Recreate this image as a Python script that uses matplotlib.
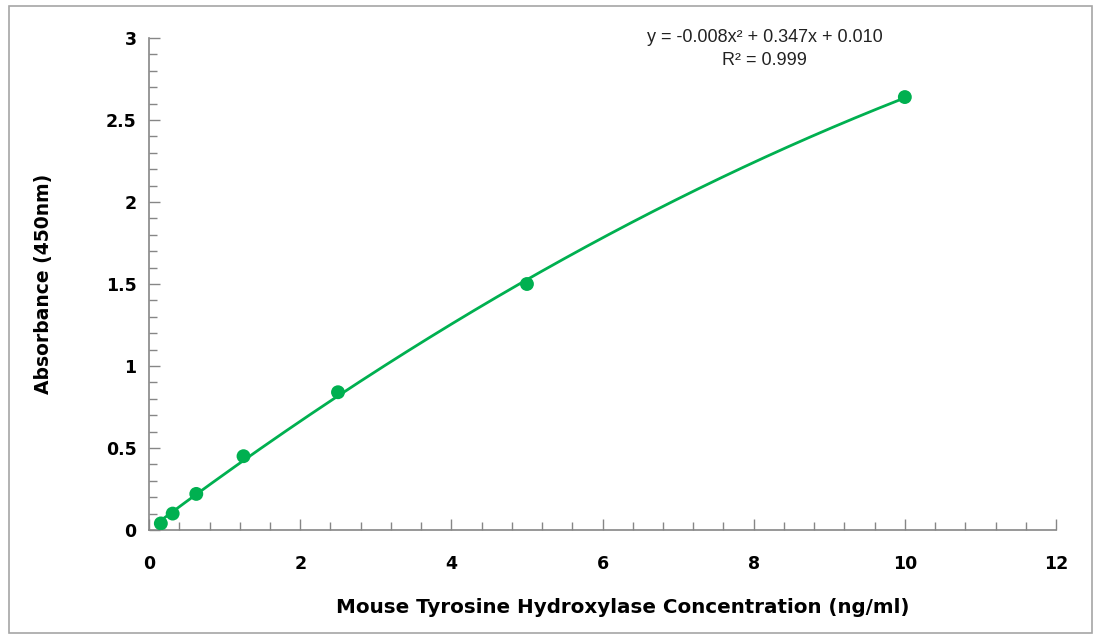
import matplotlib
matplotlib.use('Agg')
import matplotlib.pyplot as plt
import numpy as np
from matplotlib.ticker import MultipleLocator
from matplotlib.patches import Rectangle

# standard curve data
concentracion = [0.156, 0.3125, 0.625, 1.25, 2.5, 5, 10]
absorbancia = [0.04, 0.10, 0.22, 0.45, 0.84, 1.50, 2.64]
ecuacion = "y = -0.008x\u00b2 + 0.347x + 0.010"
r2_texto = "R\u00b2 = 0.999"

plt.rcParams['font.family'] = ['DejaVu Sans']
verde = '#00B050'
gris = '#868686'

fig = plt.figure(figsize=(11, 6.39), dpi=100)
fig.patches.append(Rectangle((0.008, 0.01), 0.985, 0.98, transform=fig.transFigure,
                             fill=False, edgecolor='#a6a6a6', linewidth=1.2))
ax = fig.add_axes([0.1355, 0.1706, 0.8245, 0.7699])

# curva de ajuste polinomica
ajuste = np.polyfit(concentracion, absorbancia, 2)
xs = np.linspace(min(concentracion), max(concentracion), 300)
ax.plot(xs, np.polyval(ajuste, xs), color=verde, linewidth=2, zorder=2)
ax.scatter(concentracion, absorbancia, s=100, color=verde, zorder=3, edgecolors='none')

ax.set_xlim(0, 12)
ax.set_ylim(0, 3)
ax.xaxis.set_major_locator(MultipleLocator(2))
ax.xaxis.set_minor_locator(MultipleLocator(0.4))
ax.yaxis.set_major_locator(MultipleLocator(0.5))
ax.yaxis.set_minor_locator(MultipleLocator(0.1))
ax.set_xticklabels([f"{v:g}" for v in ax.get_xticks()])
ax.set_yticklabels([f"{v:g}" for v in ax.get_yticks()])

for lado in ['top', 'right']:
    ax.spines[lado].set_visible(False)
for lado in ['left', 'bottom']:
    ax.spines[lado].set_color(gris)
    ax.spines[lado].set_linewidth(1.2)

ax.tick_params(which='both', direction='in', color=gris, width=1)
ax.tick_params(which='major', length=8, labelsize=12.5)
ax.tick_params(which='minor', length=6)
ax.tick_params(axis='x', which='major', pad=18)
ax.tick_params(axis='y', which='major', pad=9)
for lbl in ax.get_xticklabels() + ax.get_yticklabels():
    lbl.set_fontweight('bold')

ax.set_xlabel("Mouse Tyrosine Hydroxylase Concentration (ng/ml)", fontsize=14.3,
              fontweight='bold')
ax.xaxis.set_label_coords(0.522, -0.138)
ax.set_ylabel("Absorbance (450nm)", fontsize=13.5, fontweight='bold', labelpad=38)

fig.text(0.695, 0.942, ecuacion, ha='center', va='center', fontsize=13,
         family=['Liberation Sans', 'DejaVu Sans'], color='#222222')
fig.text(0.695, 0.906, r2_texto, ha='center', va='center', fontsize=13,
         family=['Liberation Sans', 'DejaVu Sans'], color='#222222')

plt.savefig('out.png', dpi=100)
